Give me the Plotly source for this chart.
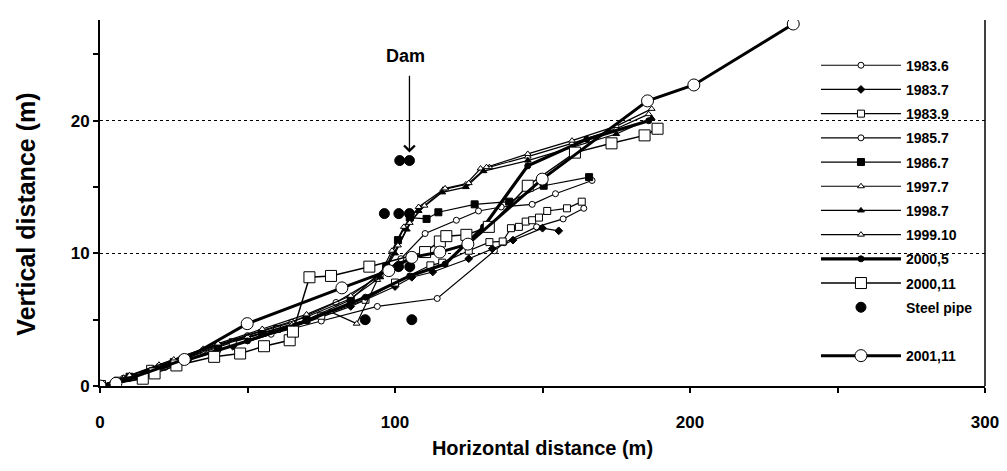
import plotly.graph_objects as go

# ---------------- data ----------------
x_1983_6 = [0, 8, 22, 40, 58, 75, 94, 114.3, 133.7, 137, 148, 157, 164]
y_1983_6 = [0, 0.5, 1.4, 2.7, 3.9, 4.9, 6.0, 6.6, 10.2, 10.8, 12.0, 12.6, 13.4]

x_1983_7 = [0, 10, 25, 45, 65, 85, 100, 105.7, 112.8, 125, 133, 140, 150, 155.5]
y_1983_7 = [0, 0.6, 1.6, 3.0, 4.4, 6.0, 7.5, 8.2, 8.6, 9.6, 10.35, 11.0, 11.9, 11.7]

x_1983_9 = [0, 6, 17, 28, 45, 60, 75, 90, 100, 112, 116, 125, 132, 136.5, 139.3, 142, 144.3, 146.5, 148.8, 151.6, 158.3, 163.3]
y_1983_9 = [0, 0.4, 1.3, 2.0, 3.3, 4.3, 5.3, 6.5, 7.8, 9.1, 9.3, 10.2, 10.85, 10.9, 11.9, 12.0, 12.4, 12.5, 12.7, 13.2, 13.4, 13.9]

x_1985_7 = [0, 8, 20, 35, 50, 65, 80, 95, 102, 110.2, 120.8, 128.3, 136, 146.5, 154.4, 166.8]
y_1985_7 = [0, 0.6, 1.5, 2.7, 3.8, 4.8, 6.3, 8.3, 9.6, 11.5, 12.5, 13.2, 13.5, 13.7, 14.5, 15.5]

x_1986_7 = [0, 10, 25, 40, 55, 70, 85, 97, 101, 105, 110.7, 114.7, 127, 138.7, 150.4, 165.8]
y_1986_7 = [0, 0.7, 1.8, 3.0, 4.0, 5.0, 6.5, 9.0, 11.0, 12.7, 12.6, 13.1, 13.7, 13.9, 15.1, 15.75]

x_1997_7 = [0, 8, 20, 35, 50, 65, 78, 87, 94, 99, 103, 108, 116.3, 124, 129, 132, 145, 160, 175, 186]
y_1997_7 = [0, 0.6, 1.6, 2.8, 3.7, 4.6, 5.6, 4.7, 8.0, 10.2, 12.0, 13.5, 14.8, 15.2, 16.4, 16.5, 17.3, 18.3, 19.4, 20.5]

x_1998_7 = [0, 10, 25, 40, 55, 70, 85, 95, 100, 104, 108, 116, 124, 130, 145, 160, 175, 187]
y_1998_7 = [0, 0.7, 1.9, 3.1, 4.2, 5.2, 6.6, 8.2, 10.0, 11.8, 13.2, 14.6, 15.0, 16.2, 17.0, 18.0, 19.0, 20.2]

x_1999_10 = [0, 10, 25, 40, 55, 70, 85, 96, 101, 105, 110, 117, 125, 131, 145, 160, 175, 187]
y_1999_10 = [0, 0.8, 2.0, 3.2, 4.3, 5.4, 6.8, 8.6, 10.6, 12.3, 13.6, 14.9, 15.3, 16.5, 17.5, 18.5, 19.6, 20.9]

x_2000_5 = [0, 12, 30, 50, 70, 90, 105, 117, 130, 145, 165, 186]
y_2000_5 = [0, 0.7, 2.0, 3.4, 4.9, 6.7, 8.3, 9.2, 12.0, 16.6, 18.6, 20.0]

x_2000_11 = [0, 14.5, 18.5, 25.9, 38.7, 47.5, 55.6, 64.3, 65.4, 71, 78.3, 91.3, 110.2, 115.2, 117.4, 124.2, 131.8, 145, 161, 173.4, 184.6, 189]
y_2000_11 = [0, 0.55, 0.95, 1.55, 2.2, 2.45, 3.0, 3.45, 4.1, 8.2, 8.3, 9.0, 10.1, 10.9, 11.3, 11.4, 12.0, 15.1, 17.6, 18.3, 18.9, 19.4]

x_pipe = [89.9, 105.7, 101.2, 105, 96.4, 101.3, 104.9, 101.6, 104.9]
y_pipe = [5, 5, 9, 9, 13, 13, 13, 17, 17]

x_2001_11 = [0, 5.4, 28.6, 49.9, 82, 97.9, 105.7, 115.2, 124.7, 149.9, 185.6, 201.3, 235]
y_2001_11 = [0, 0.2, 2.0, 4.7, 7.4, 8.7, 9.7, 10.1, 10.7, 15.6, 21.5, 22.7, 27.3]

x_ticks_major = [0, 100, 200, 300]
y_ticks_major = [0, 10, 20]
dam_x, dam_text_y, dam_tail_y, dam_head_y = 104.9, 24.9, 23.5, 17.6

# ---------------- figure ----------------
FONT = "Liberation Sans, Arial, sans-serif"
fig = go.Figure()

def add_series(name, xs, ys, symbol, fill, size, lw, mode="lines+markers"):
    fig.add_trace(go.Scatter(
        x=xs, y=ys, name=name, mode=mode, legendgroup=name,
        line=dict(color="black", width=lw),
        marker=dict(symbol=symbol, size=size, color=fill,
                    line=dict(color="black", width=1)),
    ))

add_series("1983.6", x_1983_6, y_1983_6, "circle", "white", 6, 1.2)
add_series("1983.7", x_1983_7, y_1983_7, "diamond", "black", 6, 1.2)
add_series("1983.9", x_1983_9, y_1983_9, "square", "white", 7, 1.2)
add_series("1985.7", x_1985_7, y_1985_7, "circle", "white", 6, 1.2)
add_series("1986.7", x_1986_7, y_1986_7, "square", "black", 7, 1.2)
add_series("1997.7", x_1997_7, y_1997_7, "triangle-up", "white", 6, 1.2)
add_series("1998.7", x_1998_7, y_1998_7, "triangle-up", "black", 6, 1.2)
add_series("1999.10", x_1999_10, y_1999_10, "triangle-up", "white", 6, 1.2)
add_series("2000,5", x_2000_5, y_2000_5, "circle", "black", 6, 3.2)
add_series("2000,11", x_2000_11, y_2000_11, "square", "white", 11, 1.5)
add_series("Steel pipe", x_pipe, y_pipe, "circle", "black", 10, 1, mode="markers")
# spacer entry in the legend
fig.add_trace(go.Scatter(x=[None], y=[None], name=" ", mode="markers",
                         legendgroup="spacer",
                         marker=dict(color="rgba(0,0,0,0)", size=1)))
add_series("2001,11", x_2001_11, y_2001_11, "circle", "white", 12, 3.0)

fig.add_annotation(x=dam_x, y=dam_head_y, ax=dam_x, ay=dam_tail_y,
                   xref="x", yref="y", axref="x", ayref="y",
                   showarrow=True, arrowhead=4, arrowsize=1.6, arrowwidth=1.3,
                   arrowcolor="black", text="")
fig.add_annotation(x=dam_x - 1.5, y=dam_text_y, xref="x", yref="y",
                   text="<b>Dam</b>", showarrow=False,
                   font=dict(family=FONT, size=18, color="black"))

# y-axis title (placed as rotated text, slightly below the plot centre as in the original)
fig.add_annotation(x=-0.084, y=0.47, xref="paper", yref="paper",
                   text="<b>Vertical distance (m)</b>", textangle=-90, showarrow=False,
                   xanchor="center", yanchor="middle",
                   font=dict(family=FONT, size=25, color="black"))

# white legend box covering the dotted lines, and its right border
fig.add_shape(type="rect", xref="paper", yref="paper", x0=0.806, x1=1.0, y0=0.003, y1=0.94,
              line=dict(width=0), fillcolor="white", layer="between")
fig.add_shape(type="line", xref="paper", yref="paper", x0=1.0, x1=1.0, y0=0, y1=1,
              line=dict(color="black", width=1.5))

axis_common = dict(showline=True, linecolor="black", linewidth=2,
                   ticks="outside", ticklen=5, tickwidth=1.5, tickcolor="black",
                   zeroline=False, mirror=False, automargin=False,
                   tickfont=dict(family=FONT, size=17, color="black", weight="bold"))

fig.update_xaxes(range=[0, 300], tickvals=x_ticks_major, showgrid=False,
                 minor=dict(dtick=50, ticks="outside", ticklen=5, tickwidth=1.5, tickcolor="black", showgrid=False),
                 ticklabelstandoff=15,
                 title=dict(text="<b>Horizontal distance (m)</b>", standoff=10,
                            font=dict(family=FONT, size=20, color="black")),
                 **axis_common)
fig.update_yaxes(range=[0, 27.6], tickvals=y_ticks_major, showgrid=True,
                 gridcolor="black", gridwidth=1.3, griddash="dot",
                 minor=dict(dtick=5, ticks="outside", ticklen=5, tickwidth=1.5, tickcolor="black", showgrid=False),
                 **axis_common)

# the page adds an 8px body margin, so the figure is sized to fit the window
fig.update_layout(
    width=999, height=463,
    margin=dict(l=92, r=22, t=12, b=85),
    plot_bgcolor="white", paper_bgcolor="white",
    showlegend=True,
    legend=dict(x=0.809, y=0.919, xanchor="left", yanchor="top",
                bgcolor="rgba(0,0,0,0)", borderwidth=0, tracegroupgap=3,
                itemwidth=80,
                font=dict(family=FONT, size=14, color="black", weight="bold")),
)

fig.write_html("out.html")
